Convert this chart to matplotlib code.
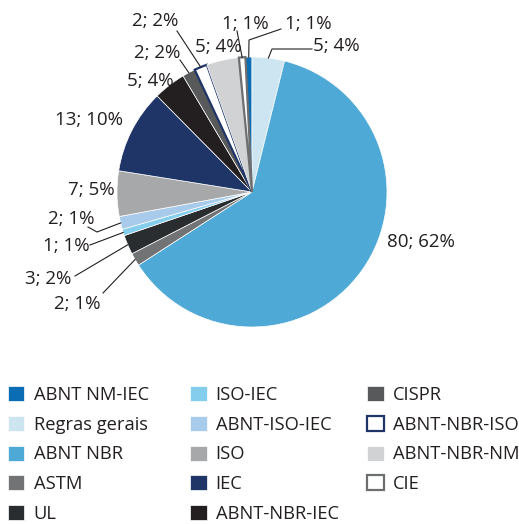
import matplotlib
matplotlib.use('Agg')
import matplotlib.pyplot as plt
import numpy as np

plt.rcParams['font.family'] = ['Open Sans', 'DejaVu Sans']

categories = ['ABNT NM-IEC', 'Regras gerais', 'ABNT NBR', 'ASTM', 'UL',
              'ISO-IEC', 'ABNT-ISO-IEC', 'ISO', 'IEC', 'ABNT-NBR-IEC',
              'CISPR', 'ABNT-NBR-ISO', 'ABNT-NBR-NM', 'CIE']
counts = [1, 5, 80, 2, 3, 1, 2, 7, 13, 5, 2, 2, 5, 1]
percent_labels = ['1%', '4%', '62%', '1%', '2%', '1%', '1%', '5%', '10%',
                  '4%', '2%', '2%', '4%', '1%']

face_colors = ['#0b6db3', '#cce5f1', '#4fa9d6', '#717375', '#2a2d30',
               '#85cdec', '#a9cbeb', '#a6a8a9', '#1f3567', '#231f20',
               '#58595b', '#ffffff', '#d1d2d4', '#ffffff']
edge_colors = {11: '#1f3567', 13: '#6d6e70'}

# layout (pixels)
W, H = 519, 524
cx, cy, R = 252, 192, 135

def px2d(x, y):
    return ((x - cx) / R, (cy - y) / R)

label_px = [(308, 24), (336, 46), (421, 242), (77, 304), (48, 279),
            (66, 246), (71, 219), (91, 190), (89, 120), (150, 81),
            (157, 53), (155, 21), (218, 47), (245, 24)]
leader_px = [[(281, 29), (249, 40)], [(312, 49), (272, 49)], None,
             [(103, 293)], [(75, 276)], [(90, 245)], [(88, 227), (97, 232)],
             None, None, None, [(180, 60)], [(177, 31)], None, [(237, 31)]]

fig = plt.figure(figsize=(W / 100, H / 100), dpi=100)
ax = fig.add_axes([(cx - R) / W, (H - cy - R) / H, 2 * R / W, 2 * R / H])
total = sum(counts)
wedges, _ = ax.pie(counts, colors=face_colors, counterclock=False,
                   startangle=90 + 360 * counts[0] / total, radius=1,
                   wedgeprops=dict(linewidth=0.5, edgecolor='white'))
for i, ec in edge_colors.items():
    wedges[i].set_edgecolor(ec)
    wedges[i].set_linewidth(1.6)
ax.set_xlim(-1, 1)
ax.set_ylim(-1, 1)
ax.axis('off')

for i, w in enumerate(wedges):
    ang = np.deg2rad((w.theta1 + w.theta2) / 2)
    edge = (np.cos(ang) * w.r, np.sin(ang) * w.r)
    ax.text(*px2d(*label_px[i]), f"{counts[i]}; {percent_labels[i]}",
            ha='center', va='center', fontsize=13.5, color='#231f20',
            clip_on=False)
    if leader_px[i]:
        pts = [px2d(*p) for p in leader_px[i]] + [edge]
        ax.plot([p[0] for p in pts], [p[1] for p in pts], color='#231f20',
                lw=0.8, clip_on=False)

# legend in three columns
col_x = [8, 190, 367]
col_slices = [(0, 5), (5, 10), (10, 14)]
for x0, (a, b) in zip(col_x, col_slices):
    fig.legend(wedges[a:b], categories[a:b], ncol=1, loc='upper left',
               bbox_to_anchor=(x0 / W, 1 - 386 / H), frameon=False,
               fontsize=13.2, handlelength=0.9, handleheight=0.9,
               handletextpad=0.5, labelspacing=0.64,
               borderpad=0, borderaxespad=0, labelcolor='#231f20')

fig.savefig('out.png', dpi=100)
